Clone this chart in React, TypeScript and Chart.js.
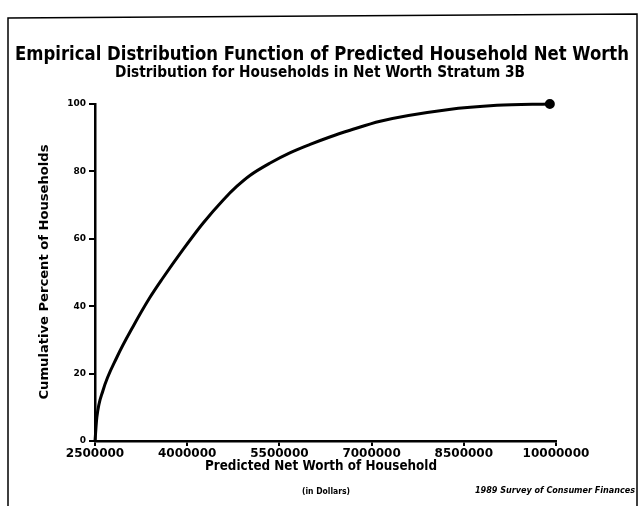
import { useEffect, useRef } from "react";
import { Chart, registerables } from "chart.js";

Chart.register(...registerables);

const netWorth = [2500000, 2530000, 2630000, 2860000, 3120000, 3390000, 3590000, 3940000, 4260000, 4590000, 4810000, 5020000, 5350000, 5670000, 6000000, 6320000, 6650000, 7140000, 8230000, 9040000, 9900000];
const cumulativePercent = [0, 7, 15, 25, 34, 42.5, 48, 57, 64.7, 71.6, 75.6, 78.8, 82.5, 85.5, 88, 90.2, 92.2, 94.9, 98.3, 99.6, 100];
const xTickValues = [2500000, 4000000, 5500000, 7000000, 8500000, 10000000];
const yTickValues = [0, 20, 40, 60, 80, 100];

const titleText = "Empirical Distribution Function of Predicted Household Net Worth";
const subtitleText = "Distribution for Households in Net Worth Stratum 3B";
const xTitleText = "Predicted Net Worth of Household";
const yTitleText = "Cumulative Percent of Households";
const unitNote = "(in Dollars)";
const sourceNote = "1989 Survey of Consumer Finances";

function fitText(ctx: CanvasRenderingContext2D, text: string, cx: number, cy: number, targetW: number, font: string, rotate = false) {
  ctx.save();
  ctx.font = font;
  const w = ctx.measureText(text).width;
  ctx.translate(cx, cy);
  if (rotate) ctx.rotate(-Math.PI / 2);
  ctx.scale(targetW / w, 1);
  ctx.textAlign = "center";
  ctx.textBaseline = "middle";
  ctx.fillStyle = "#000";
  ctx.fillText(text, 0, 0);
  ctx.restore();
}

const decorPlugin = {
  id: "decor",
  beforeDraw(chart: any) {
    const ctx = chart.ctx as CanvasRenderingContext2D;
    ctx.save();
    ctx.fillStyle = "#fff";
    ctx.fillRect(0, 0, chart.width, chart.height);
    ctx.strokeStyle = "#000";
    ctx.lineWidth = 1.5;
    ctx.beginPath();
    ctx.moveTo(8, 506);
    ctx.lineTo(8, 18);
    ctx.lineTo(637, 14);
    ctx.lineTo(637, 506);
    ctx.stroke();
    ctx.restore();
  },
  afterDraw(chart: any) {
    const ctx = chart.ctx as CanvasRenderingContext2D;
    const bold = (s: number) => `bold ${s}px "DejaVu Sans Condensed", "DejaVu Sans", sans-serif`;
    fitText(ctx, titleText, 322, 55, 614, bold(20));
    fitText(ctx, subtitleText, 320, 73, 410, bold(15));
    fitText(ctx, xTitleText, 321, 466, 232, bold(14));
    fitText(ctx, yTitleText, 45, 272, 255, bold(12), true);
    fitText(ctx, unitNote, 326, 492, 48, bold(8));
    fitText(ctx, sourceNote, 555, 491, 160, `italic ${bold(8)}`);
  },
};

export default function App() {
  const canvasRef = useRef<HTMLCanvasElement | null>(null);

  useEffect(() => {
    if (!canvasRef.current) return;
    const last = netWorth.length - 1;
    const chart = new Chart(canvasRef.current, {
      type: "line",
      data: {
        datasets: [
          {
            data: netWorth.map((x, i) => ({ x, y: cumulativePercent[i] })),
            borderColor: "#000",
            borderWidth: 3,
            cubicInterpolationMode: "monotone",
            pointRadius: (c: any) => (c.dataIndex === last ? 3.5 : 0),
            pointBackgroundColor: "#000",
            pointBorderColor: "#000",
            clip: false,
          } as any,
        ],
      },
      options: {
        animation: false,
        responsive: true,
        maintainAspectRatio: false,
        layout: { padding: { top: 104, right: 83, left: 0, bottom: 0 } },
        plugins: {
          legend: { display: false },
          title: { display: false },
          tooltip: { enabled: false },
        },
        scales: {
          x: {
            type: "linear",
            min: 2500000,
            max: 10000000,
            afterFit: (s: any) => {
              s.height = 65;
            },
            afterBuildTicks: (s: any) => {
              s.ticks = xTickValues.map((v) => ({ value: v }));
            },
            border: { display: true, color: "#000", width: 2.5 },
            grid: { drawOnChartArea: false, drawTicks: true, tickLength: 5, color: "#000", lineWidth: 2 },
            ticks: {
              color: "#000",
              padding: 1,
              maxRotation: 0,
              autoSkip: false,
              font: { family: "DejaVu Sans", weight: "bold", size: 12 },
              callback: (v: any) => String(v),
            },
          },
          y: {
            type: "linear",
            min: 0,
            max: 100,
            afterFit: (s: any) => {
              s.width = 95;
            },
            afterBuildTicks: (s: any) => {
              s.ticks = yTickValues.map((v) => ({ value: v }));
            },
            border: { display: true, color: "#000", width: 2.5 },
            grid: { drawOnChartArea: false, drawTicks: true, tickLength: 6, color: "#000", lineWidth: 2 },
            ticks: {
              color: "#000",
              padding: 3,
              font: { family: "DejaVu Sans", weight: "bold", size: 9 },
              callback: (v: any) => String(v),
            },
          },
        },
      },
      plugins: [decorPlugin],
    });
    return () => chart.destroy();
  }, []);

  return (
    <div style={{ position: "absolute", left: 0, top: 0, width: 639, height: 506, background: "#fff" }}>
      <canvas ref={canvasRef} />
    </div>
  );
}
